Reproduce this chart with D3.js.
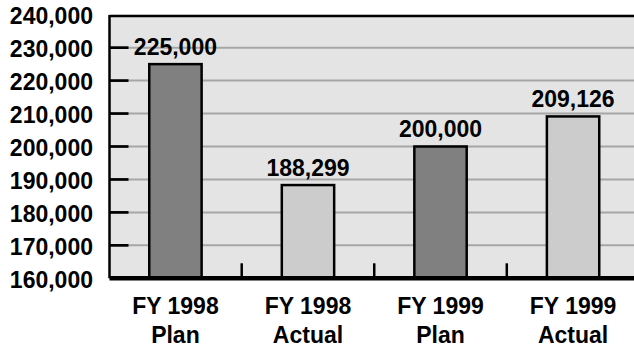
<!DOCTYPE html>
<html>
<head>
<meta charset="utf-8">
<script src="https://cdn.jsdelivr.net/npm/d3@7"></script>
<style>
  html, body { margin: 0; padding: 0; background: #ffffff; }
  svg { display: block; }
  text { font-family: "Liberation Sans", Arial, Helvetica, sans-serif; font-weight: bold; fill: #000; }
</style>
</head>
<body>
<svg id="chart" width="634" height="348"></svg>
<script>
// Budget plan vs. actual, FY 1998 and FY 1999
const categories = ["FY 1998|Plan", "FY 1998|Actual", "FY 1999|Plan", "FY 1999|Actual"];
const values = [225000, 188299, 200000, 209126];
const barKinds = ["plan", "actual", "plan", "actual"];
const yTicks = [160000, 170000, 180000, 190000, 200000, 210000, 220000, 230000, 240000];

const W = 634, H = 348;
const plot = { left: 109.5, right: 639, top: 14.7, bottom: 278.3 };

const svg = d3.select("#chart");

const x = d3.scaleBand()
  .domain(categories)
  .range([plot.left, plot.right])
  .paddingInner(0.605)
  .paddingOuter(0.3);

const y = d3.scaleLinear()
  .domain([160000, 240000])
  .range([plot.bottom, plot.top]);

const fill = { plan: "#808080", actual: "#cccccc" };
const fmt = d3.format(",");

// plot background
svg.append("rect")
  .attr("x", plot.left).attr("y", y(240000))
  .attr("width", plot.right - plot.left)
  .attr("height", y(160000) - y(240000))
  .attr("fill", "#e4e4e4");

// horizontal gridlines
svg.append("g").selectAll("line")
  .data(yTicks.filter(t => t > 160000 && t < 240000))
  .join("line")
  .attr("x1", plot.left).attr("x2", plot.right)
  .attr("y1", d => y(d)).attr("y2", d => y(d))
  .attr("stroke", "#a6a6a6").attr("stroke-width", 2);

// short inner ticks along the value axis
svg.append("g").selectAll("line")
  .data(yTicks.filter(t => t > 160000 && t < 240000))
  .join("line")
  .attr("x1", plot.left).attr("x2", plot.left + 19)
  .attr("y1", d => y(d)).attr("y2", d => y(d))
  .attr("stroke", "#000").attr("stroke-width", 2.7);

// bars
svg.append("g").selectAll("rect")
  .data(values)
  .join("rect")
  .attr("x", (d, i) => x(categories[i]))
  .attr("y", d => y(d))
  .attr("width", x.bandwidth())
  .attr("height", d => y(160000) - y(d))
  .attr("fill", (d, i) => fill[barKinds[i]])
  .attr("stroke", "#000").attr("stroke-width", 2.5);

// category separators rising from the baseline
const bounds = categories.slice(1).map(c => x(c) - x.step() * x.paddingInner() / 2);
svg.append("g").selectAll("line")
  .data(bounds)
  .join("line")
  .attr("x1", d => d).attr("x2", d => d)
  .attr("y1", plot.bottom).attr("y2", plot.bottom - 15)
  .attr("stroke", "#000").attr("stroke-width", 2.5);

// frame: top border, left border, heavy baseline
svg.append("line")
  .attr("x1", plot.left).attr("x2", plot.right)
  .attr("y1", 16).attr("y2", 16)
  .attr("stroke", "#000").attr("stroke-width", 2.5);
svg.append("line")
  .attr("x1", plot.left).attr("x2", plot.left)
  .attr("y1", 15).attr("y2", plot.bottom)
  .attr("stroke", "#000").attr("stroke-width", 2.5);
svg.append("line")
  .attr("x1", plot.left).attr("x2", plot.right)
  .attr("y1", plot.bottom).attr("y2", plot.bottom)
  .attr("stroke", "#000").attr("stroke-width", 4.5);

// value axis labels
const yAxis = d3.axisLeft(y)
  .tickValues(yTicks)
  .tickFormat(fmt)
  .tickSize(0)
  .tickPadding(0);
const gy = svg.append("g")
  .attr("transform", `translate(93,0)`)
  .call(yAxis);
gy.select(".domain").remove();
gy.selectAll("text")
  .attr("dy", null)
  .attr("y", 9)
  .attr("x", 0)
  .attr("text-anchor", "end")
  .style("font-size", "23px")
  .style("font-family", "'Liberation Sans', Arial, sans-serif")
  .style("font-weight", "bold");

// value labels above bars
svg.append("g").selectAll("text")
  .data(values)
  .join("text")
  .attr("x", (d, i) => x(categories[i]) + x.bandwidth() / 2)
  .attr("y", d => y(d) - 9.5)
  .attr("text-anchor", "middle")
  .style("font-size", "23px")
  .text(d => fmt(d));

// two-line category labels
const gx = svg.append("g");
categories.forEach(c => {
  const [l1, l2] = c.split("|");
  const cx = x(c) + x.bandwidth() / 2;
  const t = gx.append("text")
    .attr("text-anchor", "middle")
    .style("font-size", "23px");
  t.append("tspan").attr("x", cx).attr("y", 314).text(l1);
  t.append("tspan").attr("x", cx).attr("y", 342.5).text(l2);
});
</script>
</body>
</html>
